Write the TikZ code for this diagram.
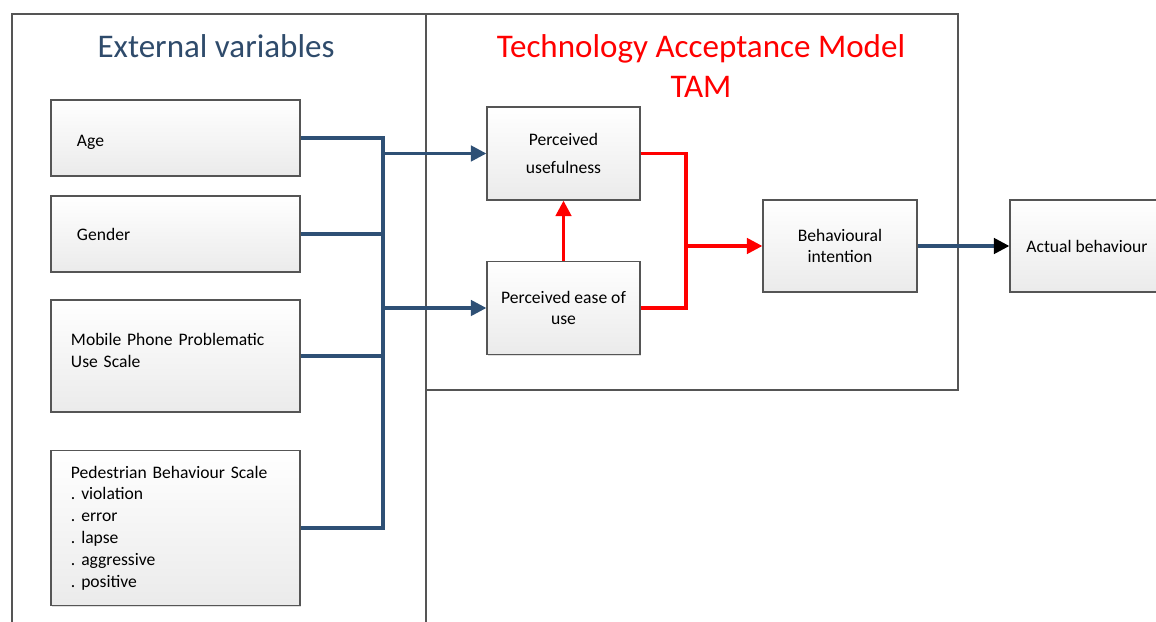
\documentclass[tikz,border=0pt]{standalone}
\usepackage{fontspec}
\setmainfont{Carlito}
\usetikzlibrary{arrows.meta,positioning,shadows}
\definecolor{linkblue}{HTML}{2E5075}
\definecolor{titleblue}{HTML}{2F4B6B}
\definecolor{framegray}{HTML}{555555}
\frenchspacing
\tikzset{
  varbox/.style={draw=framegray, line width=0.9pt, top color=white, bottom color=gray!16,
    drop shadow={shadow xshift=1pt, shadow yshift=-1pt, opacity=0.25},
    inner ysep=0pt, align=left, font=\fontsize{12.5}{15.5}\selectfont},
  tambox/.style={varbox, align=center, inner xsep=2pt},
  bluelink/.style={linkblue, line width=2.3pt},
  redlink/.style={red, line width=2.3pt},
  tip/.style={-{Triangle[length=11pt,width=11pt]}},
  frame/.style={framegray, line width=1pt},
  heading/.style={font=\fontsize{23.5}{29}\selectfont, align=center}
}
\begin{document}
\begin{tikzpicture}[x=0.025cm,y=-0.025cm]
    \useasboundingbox (0,0) rectangle (1156,622);
    %% frames
    \draw[frame] (12,622) -- (12,14) -- (958,14) -- (958,390) -- (426,390);
    \draw[frame] (426,14) -- (426,622);
    \node[heading, text=titleblue] (extitle) at (216,46) {External variables};
    \node[heading, text=red] (tamtitle) at (701,66) {Technology Acceptance Model\\TAM};
    %% external variables
    \node[varbox, minimum width=6.225cm, minimum height=1.9cm, inner xsep=0.65cm, text width=4.925cm] (age) at (175.5,138) {\raisebox{-6pt}[0pt][0pt]{Age}};
    \node[varbox, minimum width=6.225cm, minimum height=1.9cm, inner xsep=0.65cm, text width=4.925cm] (gender) at (175.5,234) {Gender};
    \node[varbox, minimum width=6.225cm, minimum height=2.8cm, inner xsep=0.5cm, text width=5.225cm] (mobile) at (175.5,356) {Mobile Phone Problematic\\Use Scale\\[-7pt]\mbox{}};
    \node[varbox, minimum width=6.225cm, minimum height=3.875cm, inner xsep=0.5cm, text width=5.225cm] (ped) at (175.5,528) {Pedestrian Behaviour Scale\\. violation\\. error\\. lapse\\. aggressive\\. positive};
    %% TAM
    \node[tambox, minimum width=3.825cm, minimum height=2.325cm] (pu) at (563.5,153.5) {Perceived\\[5pt]usefulness};
    \node[tambox, minimum width=3.825cm, minimum height=2.325cm] (peou) at (563.5,308) {Perceived ease of\\use};
    \node[tambox, minimum width=3.85cm, minimum height=2.3cm] (bi) at (840,246) {Behavioural\\intention};
    \node[tambox, minimum width=3.85cm, minimum height=2.3cm] (act) at (1087,246) {Actual behaviour};
    %% blue bus
    \coordinate (bus) at (383,0);
    \draw[bluelink] (age.east) -- (age.east -| bus) -- (ped.east -| bus) -- (ped.east);
    \draw[bluelink] (gender.east) -- (gender.east -| bus);
    \draw[bluelink] (mobile.east) -- (mobile.east -| bus);
    \draw[bluelink, tip] (pu.west -| bus) -- (pu.west);
    \draw[bluelink, tip] (peou.west -| bus) -- (peou.west);
    %% red links
    \coordinate (join) at (686,0);
    \draw[redlink] (pu.east) -- (pu.east -| join) -- (peou.east -| join) -- (peou.east);
    \draw[redlink, tip] (bi.west -| join) -- (bi.west);
    \draw[redlink, tip] (peou.north) -- (pu.south);
    %% outcome
    \draw[bluelink, -{Triangle[length=11pt,width=11pt,color=black]}] (bi.east) -- (act.west);
\end{tikzpicture}
\end{document}
